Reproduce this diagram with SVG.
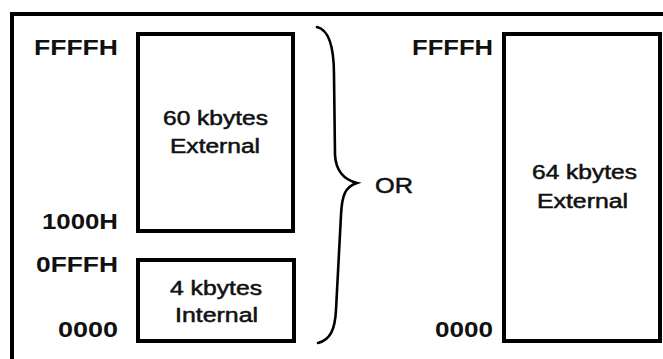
<svg xmlns="http://www.w3.org/2000/svg" width="663" height="359" viewBox="0 0 663 359">
<style>
.box{fill:#fff;stroke:#000;stroke-width:4}
.frame{fill:none;stroke:#000;stroke-width:4}
.brace{fill:none;stroke:#000;stroke-width:2.6;stroke-linecap:round;stroke-linejoin:miter}
.addr{font-family:"Liberation Sans",Arial,sans-serif;font-size:22px;font-weight:bold;fill:#111;text-anchor:end}
.lbl{font-family:"Liberation Sans",Arial,sans-serif;font-size:19.5px;fill:#111;stroke:#111;stroke-width:0.5;text-anchor:middle}
.or{font-family:"Liberation Sans",Arial,sans-serif;font-size:22px;fill:#111;stroke:#111;stroke-width:0.5}
</style>
<rect width="663" height="359" fill="#fff"/>
<path class="frame" d="M12,359 V14 H663"/>
<g id="ext60">
<rect class="box" x="138" y="34" width="155" height="197"/>
<text class="lbl" x="215.5" y="125" textLength="105" lengthAdjust="spacingAndGlyphs">60 kbytes</text>
<text class="lbl" x="215" y="153" textLength="90" lengthAdjust="spacingAndGlyphs">External</text>
</g>
<g id="int4">
<rect class="box" x="138" y="260" width="156" height="81"/>
<text class="lbl" x="216" y="295" textLength="92" lengthAdjust="spacingAndGlyphs">4 kbytes</text>
<text class="lbl" x="216.5" y="322" textLength="83" lengthAdjust="spacingAndGlyphs">Internal</text>
</g>
<g id="ext64">
<rect class="box" x="504" y="34" width="156" height="307"/>
<text class="lbl" x="584.5" y="179" textLength="105" lengthAdjust="spacingAndGlyphs">64 kbytes</text>
<text class="lbl" x="582.5" y="208" textLength="91" lengthAdjust="spacingAndGlyphs">External</text>
</g>
<g id="addresses">
<text class="addr" x="118" y="55" textLength="84" lengthAdjust="spacingAndGlyphs">FFFFH</text>
<text class="addr" x="118" y="229" textLength="76" lengthAdjust="spacingAndGlyphs">1000H</text>
<text class="addr" x="118" y="272" textLength="82" lengthAdjust="spacingAndGlyphs">0FFFH</text>
<text class="addr" x="118" y="337" textLength="60" lengthAdjust="spacingAndGlyphs">0000</text>
<text class="addr" x="493" y="55" textLength="81" lengthAdjust="spacingAndGlyphs">FFFFH</text>
<text class="addr" x="493" y="337" textLength="58" lengthAdjust="spacingAndGlyphs">0000</text>
</g>
<g id="connectors">
<path class="brace" d="M317,27 C330,30 334,50 334,75 L335,155 C336,172 345,180 357,183 C345,187 342,195 341,215 L336,310 C335,330 330,340 318,343"/>
<text class="or" x="375" y="193" textLength="38" lengthAdjust="spacingAndGlyphs">OR</text>
</g>
</svg>
